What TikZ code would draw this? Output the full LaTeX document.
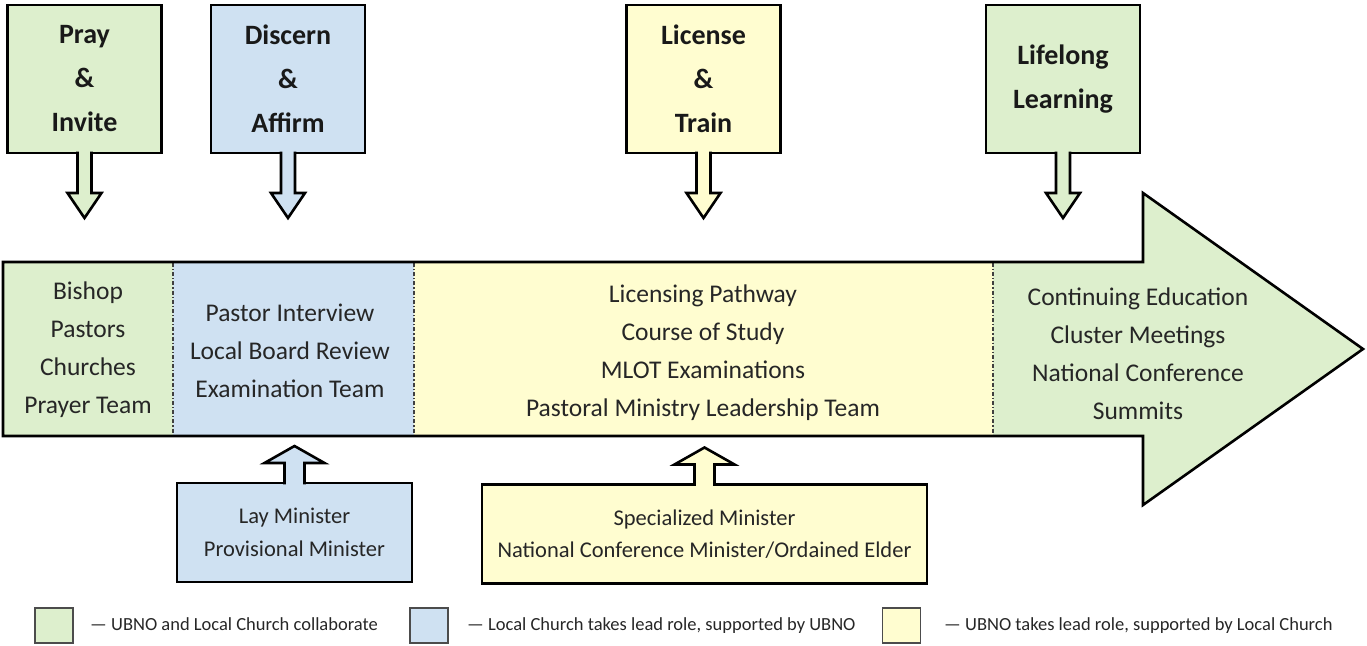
\documentclass[tikz,border=0pt]{standalone}
\usepackage{fontspec}
\setmainfont{Carlito}
\usetikzlibrary{calc}
\definecolor{cgreen}{RGB}{221,239,205}
\definecolor{cblue}{RGB}{207,225,242}
\definecolor{cyellow}{RGB}{255,253,208}
\definecolor{ink}{RGB}{38,38,38}
% stage box with a hollow arrow pointing down from its lower edge
\newcommand\downcallout[2]{%
  \begin{scope}[shift={(#1.south)}]
    \fill[#2] (-7,-3) -- (-7,40) -- (-17,40) -- (0,65) -- (17,40) -- (7,40) -- (7,-3) -- cycle;
    \draw[outline] (-7,-1.3) -- (-7,40) -- (-17,40) -- (0,65) -- (17,40) -- (7,40) -- (7,-1.3);
  \end{scope}}
% role box with a hollow arrow pointing up from its upper edge
\newcommand\upcallout[2]{%
  \begin{scope}[shift={(#1.north)}]
    \fill[#2] (-10,3) -- (-10,-20) -- (-30,-20) -- (0,-37) -- (30,-20) -- (10,-20) -- (10,3) -- cycle;
    \draw[outline] (-10,1.3) -- (-10,-20) -- (-30,-20) -- (0,-37) -- (30,-20) -- (10,-20) -- (10,1.3);
  \end{scope}}
\begin{document}
\begin{tikzpicture}[x=1pt,y=-1pt,
  outline/.style={draw=black, line width=2.6pt, line join=miter},
  stagebox/.style={outline, minimum width=154pt, minimum height=148pt, inner sep=0pt, outer sep=0pt,
    align=center, font=\fontsize{28}{44}\selectfont\bfseries, text=black!90},
  rolebox/.style={outline, minimum height=99pt, inner sep=0pt, outer sep=0pt, align=center,
    font=\fontsize{22.5}{32.5}\selectfont, text=ink},
  coltext/.style={align=center, font=\fontsize{25.5}{38}\selectfont, text=ink, inner sep=0pt},
  divider/.style={draw=black!75, line width=1.2pt, dash pattern=on 4pt off 2pt on 1.2pt off 2pt},
  keybox/.style={draw=black!70, line width=1.5pt, minimum width=38pt, minimum height=35pt, inner sep=0pt},
  keytext/.style={anchor=west, inner sep=0pt, text height=13pt, text depth=4pt,
    font=\fontsize{18.5}{22}\selectfont, text=ink},
]
\useasboundingbox (0,0) rectangle (1367,645);

% ---- the main process arrow ----
\coordinate (tl) at (3,262);
\coordinate (bl) at (3,436);
\coordinate (nt) at (1143,262);
\coordinate (nb) at (1143,436);
\coordinate (ht) at (1143,193);
\coordinate (hb) at (1143,505);
\coordinate (tip) at (1363,349);
\fill[cgreen] (tl) -- (nt) -- (ht) -- (tip) -- (hb) -- (nb) -- (bl) -- cycle;
\fill[cblue] (173,262) rectangle (414,436);
\fill[cyellow] (414,262) rectangle (993,436);
\draw[divider] (173,263) -- (173,435);
\draw[divider] (414,263) -- (414,435);
\draw[divider] (993,263) -- (993,435);
\draw[outline] (tl) -- (nt) -- (ht) -- (tip) -- (hb) -- (nb) -- (bl) -- cycle;

% ---- column contents ----
\node[coltext] (col1) at (88,350) {Bishop\\Pastors\\Churches\\Prayer Team};
\node[coltext] (col2) at (290,351) {Pastor Interview\\Local Board Review\\Examination Team};
\node[coltext] (col3) at (703,353) {Licensing Pathway\\Course of Study\\MLOT Examinations\\Pastoral Ministry Leadership Team};
\node[coltext] (col4) at (1138,354) {Continuing Education\\Cluster Meetings\\National Conference\\Summits};

% ---- stages ----
\node[stagebox, fill=cgreen] (pray) at (84.5,79) {Pray\\\&\\Invite};
\node[stagebox, fill=cblue] (discern) at (288,79) {Discern\\\&\\Affirm};
\node[stagebox, fill=cyellow] (license) at (703.5,79) {License\\\&\\Train};
\node[stagebox, fill=cgreen] (lifelong) at (1063,79) {Lifelong\\Learning};
\downcallout{pray}{cgreen}
\downcallout{discern}{cblue}
\downcallout{license}{cyellow}
\downcallout{lifelong}{cgreen}

% ---- ministerial roles ----
\node[rolebox, fill=cblue, minimum width=235pt] (lay) at (294.5,532.5) {Lay Minister\\Provisional Minister};
\node[rolebox, fill=cyellow, minimum width=445pt] (spec) at (704.5,534) {Specialized Minister\\National Conference Minister/Ordained Elder};
\upcallout{lay}{cblue}
\upcallout{spec}{cyellow}

% ---- key ----
\node[keybox, fill=cgreen] (k1) at (54,625.5) {};
\node[keytext] (t1) at (90,625.5) {— UBNO and Local Church collaborate};
\node[keybox, fill=cblue] (k2) at (429,625.5) {};
\node[keytext] (t2) at (467,625.5) {— Local Church takes lead role, supported by UBNO};
\node[keybox, fill=cyellow] (k3) at (901.5,625.5) {};
\node[keytext] (t3) at (944,625.5) {— UBNO takes lead role, supported by Local Church};
\end{tikzpicture}
\end{document}
